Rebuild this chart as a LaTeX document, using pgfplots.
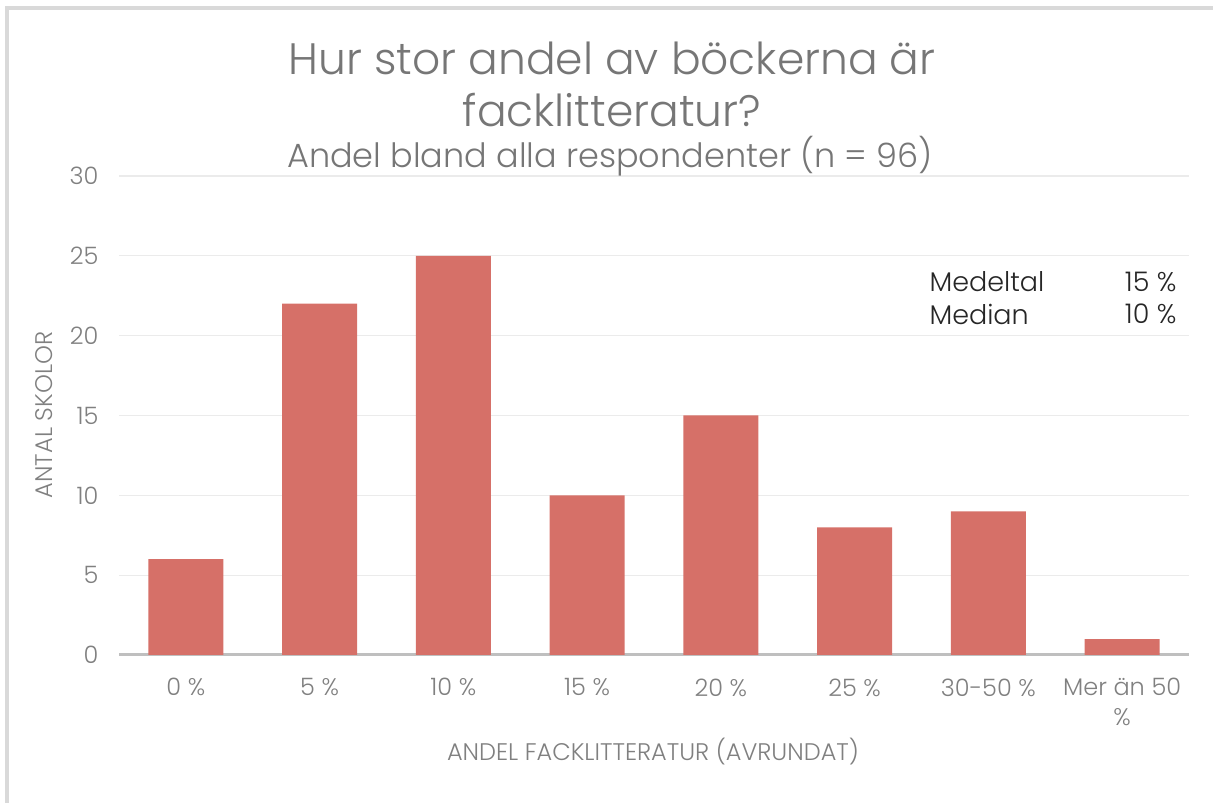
\documentclass[border=0pt]{standalone}
\usepackage{pgfplots}
\pgfplotsset{compat=1.18}
\usepackage{fontspec}
\setmainfont{Poppins}[UprightFont=* Light]
\definecolor{barc}{RGB}{214,112,104}
\definecolor{tgrey}{RGB}{118,118,118}
\definecolor{lgrey}{RGB}{128,128,128}
\definecolor{gridc}{RGB}{235,235,235}
\definecolor{axc}{RGB}{191,191,191}
\definecolor{framec}{RGB}{217,217,217}
\definecolor{dark}{RGB}{38,38,38}
\begin{document}
\begin{tikzpicture}[x=1bp,y=1bp]
\path[use as bounding box] (0,0) rectangle (1213,803);
\draw[framec,line width=4bp] (7,0) -- (7,795) -- (1213,795);
\begin{axis}[
  at={(119bp,148bp)}, anchor=south west,
  scale only axis, width=1070bp, height=479bp,
  xmin=-0.5, xmax=7.5, ymin=0, ymax=30,
  ytick={0,5,...,30},
  xtick={0,...,7},
  xticklabels={0 \%,5 \%,10 \%,15 \%,20 \%,25 \%,30-50 \%,{Mer än 50\\\%}},
  xticklabel style={align=center, text=lgrey, font=\fontsize{24bp}{30bp}\selectfont, anchor=north, yshift=-20bp},
  /pgf/number format/assume math mode=true,
  ymajorgrids, grid style={gridc, line width=1.2bp},
  axis x line*=bottom, axis y line*=left,
  x axis line style={axc, line width=3bp, -},
  y axis line style={draw=none},
  major tick length=0pt,
  ytick style={draw=none}, xtick style={draw=none},
  yticklabel style={text=lgrey, font=\fontsize{24bp}{28bp}\selectfont, anchor=east, xshift=-17bp},
  clip=false,
]
\addplot[ybar, bar width=75bp, fill=barc, draw=none] coordinates {
 (0,6) (1,22) (2,25) (3,10) (4,15) (5,8) (6,9) (7,1)};
\end{axis}
\node[text=lgrey, font=\fontsize{24bp}{28bp}\selectfont, rotate=90] at (44,388) {ANTAL SKOLOR};
\node[text=lgrey, font=\fontsize{24bp}{28bp}\selectfont] at (653,51) {ANDEL FACKLITTERATUR (AVRUNDAT)};
\node[text=tgrey, font=\fontsize{44bp}{50bp}\selectfont] at (612,745) {Hur stor andel av böckerna är};
\node[text=tgrey, font=\fontsize{44bp}{50bp}\selectfont] at (612,693) {facklitteratur?};
\node[text=tgrey, font=\fontsize{33.5bp}{38bp}\selectfont] at (610,647) {Andel bland alla respondenter (n = 96)};
\node[text=dark, font=\fontsize{27bp}{30bp}\selectfont, anchor=west] at (926,521) {Medeltal};
\node[text=dark, font=\fontsize{27bp}{30bp}\selectfont, anchor=east] at (1180,521) {15 \%};
\node[text=dark, font=\fontsize{27bp}{30bp}\selectfont, anchor=west] at (926,489) {Median};
\node[text=dark, font=\fontsize{27bp}{30bp}\selectfont, anchor=east] at (1180,489) {10 \%};
\end{tikzpicture}
\end{document}
